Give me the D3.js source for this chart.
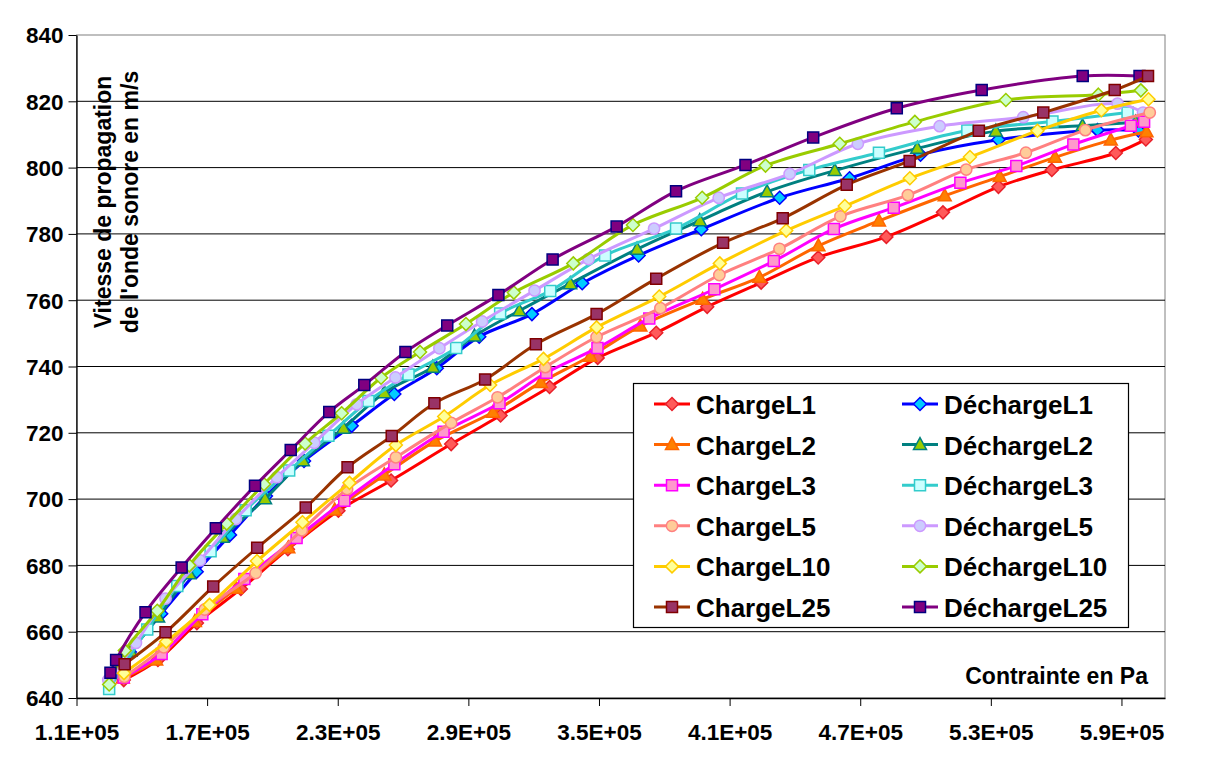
<!DOCTYPE html>
<html><head><meta charset="utf-8">
<script src="https://cdn.jsdelivr.net/npm/d3@7"></script>
<style>
body{margin:0;background:#fff}
svg{display:block;font-family:"Liberation Sans",Arial,sans-serif;font-weight:bold}
</style>
</head><body>
<svg id="chart" width="1219" height="758"></svg>
<script>
// ---------- DATA (x: contrainte en Pa, y: vitesse en m/s) ----------
const xTicks = [110000,170000,230000,290000,350000,410000,470000,530000,590000];
const xTickLabels = ["1.1E+05","1.7E+05","2.3E+05","2.9E+05","3.5E+05","4.1E+05","4.7E+05","5.3E+05","5.9E+05"];
const yTicks = [640,660,680,700,720,740,760,780,800,820,840];
const xDomain = [110000, 610000];
const yDomain = [640, 840];

const chargeL1 = [[131700,645.4],[147400,651.5],[165300,662.6],[185500,672.9],[207100,684.9],[230300,696.5],[254500,705.6],[282100,716.6],[304800,725.2],[327300,733.8],[349400,742.6],[376300,750.2],[399700,758.0],[424500,765.3],[450700,772.9],[482000,779.1],[508000,786.5],[533500,794.2],[558000,799.3],[587400,804.4],[601200,808.5]];
const dechargeL1 = [[134500,653.9],[148900,665.4],[165200,678.1],[180500,689.2],[197000,700.9],[214500,711.5],[236400,722.1],[256000,731.7],[275500,739.5],[295000,749.0],[319200,755.8],[342300,765.1],[368200,773.5],[397000,781.4],[433000,790.9],[465100,796.8],[497700,803.9],[533500,808.4],[579000,811.3],[597800,811.2]];
const chargeL2 = [[131300,646.0],[146600,651.5],[164400,663.1],[183400,673.1],[207300,685.3],[228600,696.7],[251400,707.3],[274700,717.5],[301300,726.2],[323300,735.2],[346000,743.1],[369000,752.2],[397600,760.3],[423700,766.9],[450800,776.4],[478600,783.9],[508800,791.5],[534100,797.3],[559500,803.1],[585100,808.3],[601500,810.8]];
const dechargeL2 = [[134800,654.1],[147500,664.4],[161800,677.5],[177100,688.5],[196600,700.1],[214000,711.6],[232600,721.4],[251400,732.1],[273700,739.8],[292800,749.2],[313400,756.8],[336800,765.0],[367500,775.4],[396300,784.0],[427200,792.7],[458300,799.1],[496200,805.8],[532300,811.0],[572100,812.6],[596500,813.7]];
const chargeL3 = [[131700,646.2],[149100,653.3],[167800,665.3],[187100,675.9],[211100,688.3],[233000,699.5],[256000,710.5],[278600,720.3],[304300,728.9],[325800,738.1],[349300,745.6],[373100,754.5],[403000,763.3],[430300,771.8],[457900,781.5],[485400,787.9],[516000,795.4],[541700,800.5],[567900,807.0],[594300,812.6],[600400,813.8]];
const dechargeL3 = [[125000,642.7],[142500,660.7],[156300,673.8],[171600,684.3],[187700,696.6],[207700,708.6],[225700,719.1],[244100,729.6],[262500,737.6],[284400,745.6],[304600,756.0],[327600,762.8],[352800,773.5],[385400,781.6],[415700,792.2],[446600,799.3],[478600,804.5],[519200,811.2],[558300,813.9],[592800,816.6]];
const chargeL5 = [[132000,646.4],[150100,655.3],[168900,666.7],[192300,677.7],[213500,690.6],[234300,703.0],[256700,712.6],[282100,723.0],[303400,730.7],[325300,739.8],[348900,748.9],[378200,757.6],[405300,767.6],[432900,775.5],[460900,785.3],[491900,791.7],[518700,799.4],[546100,804.5],[573400,811.3],[603000,816.6]];
const dechargeL5 = [[124600,645.4],[137300,656.6],[150900,670.0],[166700,681.5],[183200,694.0],[202000,706.6],[219200,717.0],[238700,728.6],[256500,736.7],[276700,745.5],[296300,753.6],[320400,762.9],[345200,772.4],[375300,781.6],[405000,790.9],[437600,798.1],[468900,807.2],[506500,812.5],[544900,815.2],[588200,819.3],[599900,816.6]];
const chargeL10 = [[131800,647.5],[151200,657.0],[171100,668.1],[192900,681.3],[213800,693.0],[235400,704.9],[256700,716.3],[278900,724.9],[300000,734.4],[324500,742.3],[348900,751.8],[377700,761.1],[405500,771.1],[436000,781.0],[462900,788.4],[492800,796.8],[520400,803.2],[551400,811.1],[580800,817.3],[602400,820.6]];
const dechargeL10 = [[125000,644.1],[132200,654.3],[147100,666.3],[161800,680.0],[179000,692.6],[196100,704.5],[215000,716.8],[231800,725.9],[249900,736.6],[267800,744.4],[288900,752.8],[310900,762.3],[338200,771.1],[365600,782.7],[397400,790.9],[426500,800.6],[460600,807.2],[495100,813.8],[536900,820.4],[579400,822.0],[598900,823.3]];
const chargeL25 = [[132100,650.2],[150900,659.8],[172800,673.6],[193000,685.3],[215300,697.5],[234500,709.6],[254800,719.0],[274400,728.9],[297700,736.1],[321000,746.7],[348900,755.8],[376300,766.5],[407000,777.3],[434400,784.7],[463800,794.8],[492700,802.0],[524500,811.1],[554100,816.6],[586900,823.4],[602200,827.6]];
const dechargeL25 = [[125600,647.6],[128200,651.5],[141700,665.9],[158300,679.4],[174000,691.2],[192000,704.0],[208400,714.8],[226100,726.3],[242200,734.4],[261100,744.4],[280300,752.4],[303800,761.6],[328700,772.3],[358100,782.2],[385400,792.9],[417300,800.8],[448400,809.1],[486800,817.9],[525800,823.4],[572200,827.6],[598300,827.6]];

const seriesNames = ["ChargeL1","DéchargeL1","ChargeL2","DéchargeL2","ChargeL3","DéchargeL3","ChargeL5","DéchargeL5","ChargeL10","DéchargeL10","ChargeL25","DéchargeL25"];
const seriesData = [chargeL1,dechargeL1,chargeL2,dechargeL2,chargeL3,dechargeL3,chargeL5,dechargeL5,chargeL10,dechargeL10,chargeL25,dechargeL25];
const lineColors = ["#ff0000","#0000ff","#ff6600","#008080","#ff00ff","#33cccc","#ff8080","#cc99ff","#ffcc00","#99cc00","#993300","#800080"];
const markerFills = ["#ff5a5a","#00ccff","#ff8000","#99cc00","#ff99cc","#ccffff","#ffcc99","#ccccff","#ffff99","#ccffcc","#993366","#800080"];
const markerStrokes = ["#e8202a","#0000ff","#ff6600","#008080","#ff00ff","#33cccc","#ff8080","#cc99ff","#ffcc00","#99cc00","#800000","#000080"];
const markerShapes = ["diamond","diamond","triangle","triangle","square","square","circle","circle","diamond","diamond","square","square"];

// ---------- LAYOUT ----------
const svg = d3.select("#chart");
const L = 76.5, R = 1165, T = 35, B = 698;
const x = d3.scaleLinear().domain(xDomain).range([L, R]);
const y = d3.scaleLinear().domain(yDomain).range([B, T]);

// plot area border (top/right gray)
svg.append("rect").attr("x", L).attr("y", T).attr("width", R - L).attr("height", B - T)
  .attr("fill", "#fff").attr("stroke", "#808080").attr("stroke-width", 1);

// gridlines
svg.append("g").selectAll("line").data(yTicks.filter(v => v > yDomain[0] && v < yDomain[1])).join("line")
  .attr("x1", L).attr("x2", R).attr("y1", d => y(d)).attr("y2", d => y(d))
  .attr("stroke", "#000").attr("stroke-width", 1);

// axes
const xAxis = d3.axisBottom(x).tickValues(xTicks).tickSize(8).tickSizeOuter(0)
  .tickFormat((d, i) => xTickLabels[i]);
const gx = svg.append("g").attr("transform", `translate(0,${B})`).call(xAxis);
gx.select(".domain").attr("stroke", "#000").attr("stroke-width", 1.3);
gx.selectAll(".tick line").attr("stroke", "#000");
gx.selectAll(".tick text").attr("font-size", 22.5).attr("font-family", null).attr("fill", "#000")
  .attr("y", 0).attr("dy", null).attr("transform", "translate(0,42)");

const yAxis = d3.axisLeft(y).tickValues(yTicks).tickSize(8).tickSizeOuter(0);
const gy = svg.append("g").attr("transform", `translate(${L},0)`).call(yAxis);
gy.select(".domain").attr("stroke", "#000").attr("stroke-width", 1.3);
gy.selectAll(".tick line").attr("stroke", "#000");
gy.selectAll(".tick text").attr("font-size", 22.5).attr("font-family", null).attr("fill", "#000")
  .attr("x", -13).attr("dy", "0.35em");
svg.selectAll(".tick text").attr("font-weight", "bold");

// axis titles
const yTitle = svg.append("text").attr("transform", `translate(111,202) rotate(-90)`)
  .attr("text-anchor", "middle").attr("font-size", 23);
yTitle.append("tspan").attr("x", 0).attr("y", 0).text("Vitesse de propagation");
yTitle.append("tspan").attr("x", 0).attr("y", 27).text("de l'onde sonore en m/s");

svg.append("text").attr("x", 1148).attr("y", 684).attr("text-anchor", "end")
  .attr("font-size", 23).text("Contrainte en Pa");

// ---------- SERIES ----------
function markerPath(shape) {
  switch (shape) {
    case "diamond": return "M0,-6.5L6.5,0L0,6.5L-6.5,0Z";
    case "triangle": return "M0,-7L6.5,5L-6.5,5Z";
    case "square": return "M-5.5,-5.5H5.5V5.5H-5.5Z";
    default: return d3.symbol(d3.symbolCircle, 100)();
  }
}
const line = d3.line().x(d => x(d[0])).y(d => y(d[1])).curve(d3.curveCatmullRom.alpha(0.5));

// draw Décharge series first, then Charge series
const order = [1,3,5,7,9,11,0,2,4,6,8,10];
const plot = svg.append("g");
order.forEach(i => {
  const g = plot.append("g");
  g.append("path").datum(seriesData[i]).attr("d", line).attr("fill", "none")
    .attr("stroke", lineColors[i]).attr("stroke-width", 3).attr("stroke-linejoin", "round");
  g.selectAll("path.m").data(seriesData[i]).join("path").attr("class", "m")
    .attr("d", markerPath(markerShapes[i]))
    .attr("transform", d => `translate(${x(d[0])},${y(d[1])})`)
    .attr("fill", markerFills[i]).attr("stroke", markerStrokes[i]).attr("stroke-width", 1.5);
});

// ---------- LEGEND ----------
const lg = svg.append("g");
lg.append("rect").attr("x", 633.5).attr("y", 383.5).attr("width", 495).attr("height", 244)
  .attr("fill", "#fff").attr("stroke", "#000").attr("stroke-width", 1.2);
seriesNames.forEach((name, i) => {
  const row = Math.floor(i / 2), col = i % 2;
  const x0 = col === 0 ? 654 : 902;
  const cy = 404 + row * 40.6;
  const e = lg.append("g");
  e.append("line").attr("x1", x0).attr("x2", x0 + 36).attr("y1", cy).attr("y2", cy)
    .attr("stroke", lineColors[i]).attr("stroke-width", 3);
  e.append("path").attr("d", markerPath(markerShapes[i])).attr("transform", `translate(${x0 + 18},${cy})`)
    .attr("fill", markerFills[i]).attr("stroke", markerStrokes[i]).attr("stroke-width", 1.5);
  e.append("text").attr("x", x0 + 42).attr("y", cy + 10).attr("font-size", 26).text(name);
});
</script>
</body></html>
